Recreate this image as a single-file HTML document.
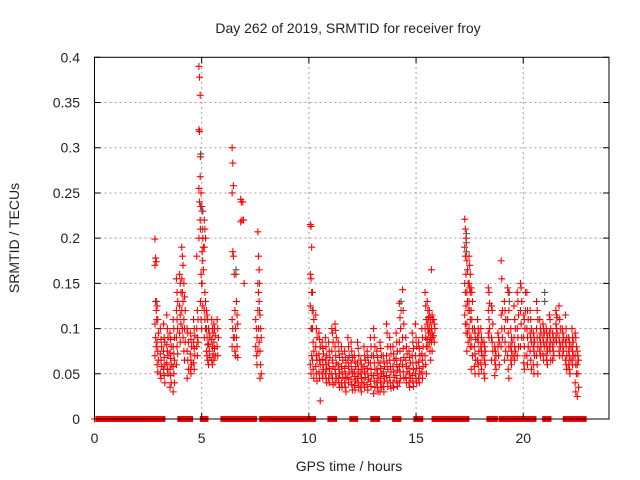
<!DOCTYPE html>
<html><head><meta charset="utf-8">
<style>
html,body{margin:0;padding:0;background:#fff;}
svg{display:block;font-family:"Liberation Sans",sans-serif;}
</style></head>
<body>
<svg id="chart" width="640" height="480" viewBox="0 0 640 480">
<rect x="0" y="0" width="640" height="480" fill="#fff"/>
<text x="348" y="33" font-size="14" text-anchor="middle" fill="#222">Day 262 of 2019, SRMTID for receiver froy</text>
<text x="349" y="471" font-size="14" text-anchor="middle" fill="#222">GPS time / hours</text>
<text x="0" y="0" font-size="14" text-anchor="middle" fill="#222" transform="translate(19,238) rotate(-90)">SRMTID / TECUs</text>
<g id="grid"></g>
<g id="zeros"></g>
<g id="grey"></g>
<g id="red"></g>
<g id="axes"></g>
</svg>
<script>
const xTicks=[0,5,10,15,20];
const yTicks=[0,0.05,0.1,0.15,0.2,0.25,0.3,0.35,0.4];
const yTickLabels=["0","0.05","0.1","0.15","0.2","0.25","0.3","0.35","0.4"];
// red series: column times (hours) and values at each column
const redTimes=[2.85,2.95,3.1,3.25,3.4,3.55,3.7,3.85,4.0,4.1,4.2,4.35,4.5,4.65,4.8,4.9,4.97,5.05,5.15,5.25,5.35,5.5,5.6,5.75,6.45,6.55,6.65,6.85,6.95,7.55,7.65,7.75,
10.1,10.2,10.35,10.5,10.65,10.8,10.95,11.1,11.25,11.4,11.55,11.7,11.85,12.0,12.15,12.3,12.45,12.6,12.75,12.9,13.05,13.2,13.35,13.5,13.65,13.8,13.95,14.1,14.25,14.4,14.55,14.7,14.85,15.0,15.15,15.3,15.45,15.55,15.65,15.75,15.85,
17.3,17.4,17.5,17.6,17.75,17.9,18.05,18.2,18.4,18.55,18.7,18.85,19.0,19.15,19.3,19.45,19.6,19.75,19.9,20.05,20.2,20.35,20.5,20.65,20.8,20.95,21.1,21.25,21.4,21.55,21.7,21.85,22.0,22.15,22.3,22.45,22.55];
const redValues=[
[0.199,0.178,0.174,0.17,0.13,0.12,0.105,0.09,0.08,0.07],
[0.125,0.11,0.095,0.085,0.075,0.065,0.06,0.052],
[0.1,0.088,0.08,0.072,0.065,0.058,0.05,0.045],
[0.105,0.09,0.085,0.075,0.068,0.06,0.055,0.048,0.04],
[0.115,0.1,0.09,0.082,0.075,0.07,0.062,0.055,0.05],
[0.095,0.088,0.08,0.073,0.067,0.06,0.055,0.048,0.04,0.035],
[0.11,0.1,0.09,0.08,0.072,0.065,0.058,0.05,0.04,0.03],
[0.155,0.14,0.13,0.12,0.11,0.1,0.09,0.08,0.072,0.06],
[0.16,0.15,0.14,0.125,0.115,0.105,0.095,0.085],
[0.19,0.18,0.17,0.155,0.14,0.13,0.12,0.1,0.09],
[0.15,0.135,0.12,0.11,0.1,0.085,0.075,0.065],
[0.1,0.095,0.085,0.075,0.065,0.055,0.045],
[0.095,0.088,0.08,0.072,0.065,0.06,0.055,0.05],
[0.11,0.1,0.092,0.085,0.078,0.07,0.062,0.055],
[0.18,0.12,0.11,0.1,0.09,0.085,0.08,0.07],
[0.39,0.378,0.358,0.32,0.318,0.268,0.255,0.24,0.22,0.2],
[0.29,0.25,0.235,0.21,0.16,0.15,0.13,0.11,0.1],
[0.23,0.2,0.19,0.185,0.175,0.165,0.15,0.125],
[0.22,0.21,0.2,0.19,0.14,0.13,0.12,0.11,0.1,0.09],
[0.12,0.115,0.11,0.1,0.09,0.082,0.075,0.07,0.065],
[0.1,0.095,0.09,0.083,0.075,0.068,0.06],
[0.11,0.1,0.095,0.088,0.08,0.072,0.065,0.06],
[0.105,0.1,0.092,0.085,0.078,0.07,0.065],
[0.11,0.1,0.09,0.08,0.07],
[0.3,0.283,0.258,0.25,0.185,0.18,0.11,0.1,0.09,0.08],
[0.16,0.12,0.1,0.09,0.075,0.07],
[0.13,0.115,0.105,0.09,0.08,0.068],
[0.243,0.24,0.22,0.218],
[0.24,0.22,0.15],
[0.11,0.1,0.09,0.08,0.07,0.06],
[0.207,0.18,0.165,0.15,0.14,0.13,0.12,0.1,0.085,0.075],
[0.115,0.1,0.09,0.075,0.06,0.05,0.045],
[0.215,0.213,0.19,0.16,0.155,0.14,0.125,0.1,0.07,0.06,0.05],
[0.14,0.12,0.11,0.1,0.085,0.075,0.065,0.055,0.045],
[0.115,0.1,0.09,0.08,0.07,0.065,0.058,0.05,0.042],
[0.095,0.088,0.08,0.072,0.065,0.06,0.052,0.045,0.02],
[0.085,0.078,0.072,0.066,0.06,0.055,0.05,0.045],
[0.09,0.08,0.07,0.065,0.06,0.055,0.05,0.045,0.04],
[0.085,0.075,0.068,0.062,0.056,0.05,0.045,0.04],
[0.1,0.095,0.085,0.075,0.065,0.058,0.05,0.045,0.038],
[0.105,0.098,0.09,0.08,0.07,0.062,0.055,0.05,0.045,0.04],
[0.085,0.075,0.068,0.06,0.055,0.05,0.045,0.04,0.035],
[0.08,0.072,0.065,0.058,0.052,0.046,0.04,0.035],
[0.075,0.068,0.062,0.056,0.05,0.045,0.04,0.035,0.03],
[0.09,0.08,0.07,0.065,0.058,0.052,0.046,0.04],
[0.085,0.075,0.068,0.062,0.055,0.05,0.044,0.038,0.032],
[0.07,0.064,0.058,0.052,0.047,0.042,0.037,0.032],
[0.085,0.078,0.07,0.062,0.055,0.05,0.045,0.04,0.035],
[0.065,0.06,0.055,0.05,0.045,0.04,0.035,0.03],
[0.08,0.07,0.065,0.058,0.052,0.046,0.04,0.035],
[0.075,0.068,0.062,0.056,0.05,0.044,0.038,0.032],
[0.09,0.08,0.07,0.062,0.055,0.048,0.042,0.036],
[0.1,0.09,0.08,0.07,0.062,0.055,0.048,0.042,0.035,0.028],
[0.075,0.068,0.062,0.055,0.05,0.045,0.04,0.035,0.03],
[0.085,0.078,0.07,0.062,0.056,0.05,0.045,0.04,0.035,0.03],
[0.07,0.064,0.058,0.052,0.047,0.042,0.036,0.03],
[0.105,0.095,0.08,0.07,0.062,0.055,0.048,0.042,0.036],
[0.09,0.08,0.072,0.065,0.058,0.052,0.046,0.04,0.034],
[0.08,0.072,0.065,0.058,0.052,0.046,0.04,0.035],
[0.095,0.085,0.075,0.067,0.06,0.054,0.048,0.042,0.036],
[0.128,0.112,0.1,0.085,0.075,0.065,0.058,0.052,0.045,0.04],
[0.143,0.12,0.105,0.09,0.078,0.068,0.06,0.052,0.045],
[0.09,0.08,0.072,0.065,0.058,0.052,0.046,0.04],
[0.075,0.068,0.062,0.056,0.05,0.045,0.04,0.035],
[0.095,0.085,0.078,0.07,0.062,0.055,0.048,0.042,0.036],
[0.105,0.09,0.08,0.07,0.062,0.056,0.05,0.045,0.04],
[0.085,0.078,0.07,0.063,0.056,0.05,0.045,0.04],
[0.1,0.09,0.08,0.072,0.065,0.058,0.052,0.045],
[0.14,0.125,0.11,0.1,0.09,0.08,0.07,0.06,0.05],
[0.13,0.12,0.112,0.105,0.1,0.095,0.088,0.08],
[0.12,0.113,0.107,0.1,0.095,0.09,0.085,0.075,0.065],
[0.165,0.115,0.11,0.1,0.095,0.09,0.085,0.075],
[0.11,0.105,0.1,0.092,0.085],
[0.221,0.21,0.2,0.19,0.18,0.16,0.15,0.14,0.125,0.115,0.105,0.095],
[0.175,0.165,0.15,0.14,0.13,0.12,0.105,0.095,0.085,0.075],
[0.18,0.17,0.16,0.15,0.145,0.14,0.13,0.12,0.11,0.1,0.09,0.08],
[0.145,0.14,0.13,0.12,0.11,0.1,0.09,0.08,0.07,0.055],
[0.1,0.095,0.088,0.08,0.072,0.065,0.058,0.05],
[0.11,0.1,0.095,0.09,0.085,0.075,0.065,0.06,0.05],
[0.1,0.09,0.085,0.08,0.075,0.07,0.062,0.055],
[0.085,0.08,0.075,0.07,0.065,0.06,0.05,0.045],
[0.145,0.14,0.128,0.12,0.11,0.1,0.095,0.09],
[0.125,0.12,0.105,0.09,0.085,0.075,0.065],
[0.08,0.075,0.07,0.065,0.06,0.055,0.048],
[0.095,0.09,0.085,0.08,0.07,0.06],
[0.175,0.155,0.12,0.115,0.1,0.09,0.08],
[0.13,0.12,0.11,0.1,0.085,0.075,0.065],
[0.145,0.14,0.12,0.11,0.095,0.08,0.07,0.055,0.045],
[0.1,0.09,0.085,0.08,0.075,0.07,0.065,0.06],
[0.125,0.11,0.1,0.09,0.08,0.075,0.07,0.065],
[0.14,0.13,0.115,0.1,0.09,0.08,0.07],
[0.15,0.145,0.13,0.12,0.105,0.09,0.08],
[0.115,0.11,0.1,0.09,0.08,0.07,0.062,0.055],
[0.14,0.12,0.11,0.1,0.09,0.08,0.07,0.06],
[0.12,0.11,0.1,0.095,0.09,0.085,0.075,0.065,0.055],
[0.095,0.09,0.085,0.08,0.075,0.07,0.06,0.05],
[0.13,0.12,0.11,0.1,0.09,0.08,0.07,0.06,0.05],
[0.11,0.1,0.095,0.09,0.085,0.08,0.075,0.07],
[0.105,0.1,0.095,0.09,0.085,0.08,0.072,0.065],
[0.1,0.095,0.09,0.085,0.08,0.075,0.07,0.065,0.06],
[0.115,0.11,0.1,0.095,0.09,0.085,0.08,0.075,0.065],
[0.095,0.09,0.085,0.08,0.075,0.07,0.065],
[0.12,0.115,0.112,0.105,0.1,0.095,0.09,0.085],
[0.125,0.11,0.1,0.09,0.085,0.08,0.075,0.07],
[0.1,0.095,0.09,0.085,0.08,0.075,0.07],
[0.115,0.1,0.09,0.085,0.08,0.07,0.065,0.06,0.055],
[0.09,0.085,0.08,0.075,0.07,0.065,0.06,0.055,0.05],
[0.1,0.09,0.085,0.08,0.075,0.07,0.065,0.06],
[0.095,0.09,0.08,0.07,0.06,0.05,0.04,0.03],
[0.075,0.07,0.065,0.06,0.05,0.035,0.025]];
// grey (second receiver series), mostly hidden under red
const greyTimes=[2.9,4.95,5.05,6.6,7.7,10.15,14.3,17.35,19.35,20.1,21.0];
const greyValues=[[0.13,0.11],[0.293,0.235],[0.23,0.21],[0.165,0.16],[0.15,0.12],[0.12,0.1],[0.13,0.12],[0.205,0.195,0.185],[0.14,0.13],[0.14,0.12],[0.14,0.13]];
// time ranges where SRMTID = 0
const zeroStarts=[0.16,3.0,3.98,4.32,5.03,5.99,6.69,7.8,9.76,10.98,12.0,12.98,14.0,14.99,15.84,18.4,18.97,19.42,19.5,19.58,19.66,19.89,20.3,21.0,21.96,22.33];
const zeroEnds=[2.86,3.19,4.2,4.48,5.2,6.53,7.46,9.73,10.22,11.2,12.18,13.2,14.2,15.22,17.37,18.7,19.33,19.45,19.53,19.61,19.69,20.2,20.5,21.2,22.2,22.84];

const X0=94.5,X1=609,Y0=419,Y1=57.3,XMAX=24,YMAX=0.4;
const sx=t=>X0+(X1-X0)*t/XMAX;
const sy=v=>Y0-(Y0-Y1)*v/YMAX;
const NS='http://www.w3.org/2000/svg';
function mk(tag,parent,attrs){const e=document.createElementNS(NS,tag);for(const k in attrs)e.setAttribute(k,attrs[k]);parent.appendChild(e);return e;}
const grid=document.getElementById('grid'),axes=document.getElementById('axes');
yTicks.forEach((v,i)=>{
  if(v>0&&v<YMAX){const l=mk('line',grid,{x1:X0,x2:X1,y1:sy(v),y2:sy(v),stroke:'#a0a0a0','stroke-dasharray':'2,3'});
  
  }
  const tk=mk('path',axes,{d:`M${X0},${sy(v)}h6M${X1},${sy(v)}h-6`,stroke:'#000'});
  
  
  const t=mk('text',axes,{x:80,y:sy(v)+5,'font-size':14,'text-anchor':'end',fill:'#222'});
  t.textContent=yTickLabels[i];
  
  
});
xTicks.forEach(v=>{
  if(v>0){const l=mk('line',grid,{x1:sx(v),x2:sx(v),y1:Y0,y2:Y1,stroke:'#a0a0a0','stroke-dasharray':'2,3'});
  
  }
  const tk=mk('path',axes,{d:`M${sx(v)},${Y0}v-6M${sx(v)},${Y1}v6`,stroke:'#000'});
  
  
  const t=mk('text',axes,{x:sx(v),y:443,'font-size':14,'text-anchor':'middle',fill:'#222'});
  t.textContent=String(v);
  
  
});
const frame=mk('rect',axes,{x:X0,y:Y1,width:X1-X0,height:Y0-Y1,fill:'none',stroke:'#000'});


function plus(g,t,v,color,name){
  const x=sx(t),y=sy(v);
  const p=mk('path',g,{d:`M${x-3.5},${y}h7M${x},${y-3.5}v7`,stroke:color,'stroke-width':1.1});
  
  
}
const grey=document.getElementById('grey'),red=document.getElementById('red'),zeros=document.getElementById('zeros');
greyTimes.forEach((t,i)=>greyValues[i].forEach(v=>plus(grey,t,v,'#555','grey-point')));
redTimes.forEach((t,i)=>redValues[i].forEach((v,j)=>plus(red,t+((j%3)-1)*0.03,v,'#f00','red-point')));
zeroStarts.forEach((s,i)=>{
  const r=mk('rect',zeros,{x:sx(s)-2.5,y:Y0-3,width:Math.max(sx(zeroEnds[i])-sx(s)+5,6),height:6,fill:'#f00'});
  
  
});
plus(zeros,0,0,'#f00','zero-point');
</script>
</body></html>
